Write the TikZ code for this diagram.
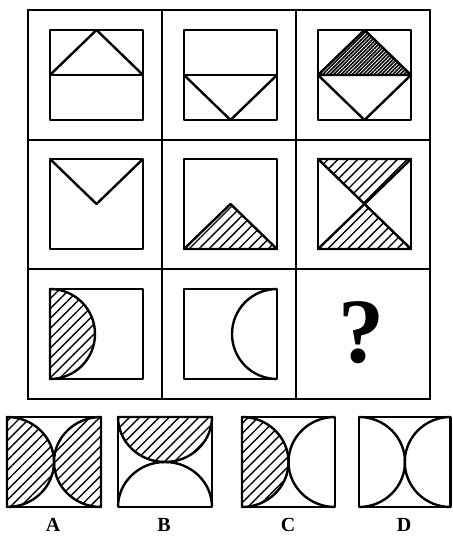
\documentclass[tikz,border=0pt]{standalone}
\usepackage{fontspec}
\setmainfont{Liberation Serif}
\usetikzlibrary{patterns.meta}
\tikzset{
  cell/.style={line width=1.6pt},
  frame/.style={line width=2.4pt, line join=round},
  hatch/.style={frame, pattern={Lines[angle=45,distance=7pt,line width=1.4pt]}},
  darkhatch/.style={frame, pattern={Lines[angle=45,distance=2.6pt,line width=1.6pt]}},
  optlabel/.style={inner sep=0pt, font=\fontsize{20}{20}\selectfont\bfseries}
}
\begin{document}
\begin{tikzpicture}[x=1pt, y=1pt]
  \useasboundingbox (0,0) rectangle (452,537);
  % outer grid
  \draw[cell] (28,138) rectangle (430,527);
  \draw[cell] (162,138) -- (162,527);
  \draw[cell] (296,138) -- (296,527);
  \draw[cell] (28,397) -- (430,397);
  \draw[cell] (28,268) -- (430,268);
  % inner squares
  \foreach \x in {50,184,318}
    \foreach \y in {417,288} {
      \draw[frame] (\x,\y) rectangle +(93,90);
    }
  \draw[frame] (50,158) rectangle +(93,90);
  \draw[frame] (184,158) rectangle +(93,90);
  % row 1
  \draw[frame] (50,462) -- (143,462);
  \draw[frame] (50,462) -- (96.5,507) -- (143,462);
  \draw[frame] (184,462) -- (277,462);
  \draw[frame] (184,462) -- (230.5,417) -- (277,462);
  \draw[darkhatch] (318,462) -- (364.5,507) -- (411,462) -- cycle;
  \draw[frame] (318,462) -- (364.5,417) -- (411,462);
  % row 2
  \draw[frame] (50,378) -- (96.5,333) -- (143,378);
  \draw[hatch] (184,288) -- (230.5,333) -- (277,288) -- cycle;
  \draw[hatch] (318,378) -- (364.5,333) -- (411,378) -- cycle;
  \draw[hatch] (318,288) -- (364.5,333) -- (411,288) -- cycle;
  % row 3
  \draw[hatch] (50,248) arc[start angle=90, end angle=-90, radius=45] -- cycle;
  \draw[frame] (277,248) arc[start angle=90, end angle=270, radius=45];
  \node (quest) at (361,204) {\fontsize{92}{92}\selectfont\bfseries ?};
  % options
  \draw[frame] (7,30) rectangle (101,120);
  \draw[hatch] (7,120) arc[start angle=90, end angle=-90, x radius=47, y radius=45] -- cycle;
  \draw[hatch] (101,120) arc[start angle=90, end angle=270, x radius=47, y radius=45] -- cycle;
  \draw[frame] (118,30) rectangle (212,120);
  \draw[hatch] (118,120) arc[start angle=180, end angle=360, x radius=47, y radius=45] -- cycle;
  \draw[frame] (118,30) arc[start angle=180, end angle=0, x radius=47, y radius=45];
  \draw[frame] (242,30) rectangle (335,120);
  \draw[hatch] (242,120) arc[start angle=90, end angle=-90, x radius=46.5, y radius=45] -- cycle;
  \draw[frame] (335,120) arc[start angle=90, end angle=270, x radius=46.5, y radius=45];
  \draw[frame] (359,30) rectangle (450.5,120);
  \draw[frame] (359,120) arc[start angle=90, end angle=-90, x radius=46, y radius=45];
  \draw[frame] (450.5,120) arc[start angle=90, end angle=270, x radius=45.75, y radius=45];
  % labels
  \node[optlabel] (labA) at (53,12) {A};
  \node[optlabel] (labB) at (164,12) {B};
  \node[optlabel] (labC) at (288,12) {C};
  \node[optlabel] (labD) at (404,12) {D};
\end{tikzpicture}
\end{document}
